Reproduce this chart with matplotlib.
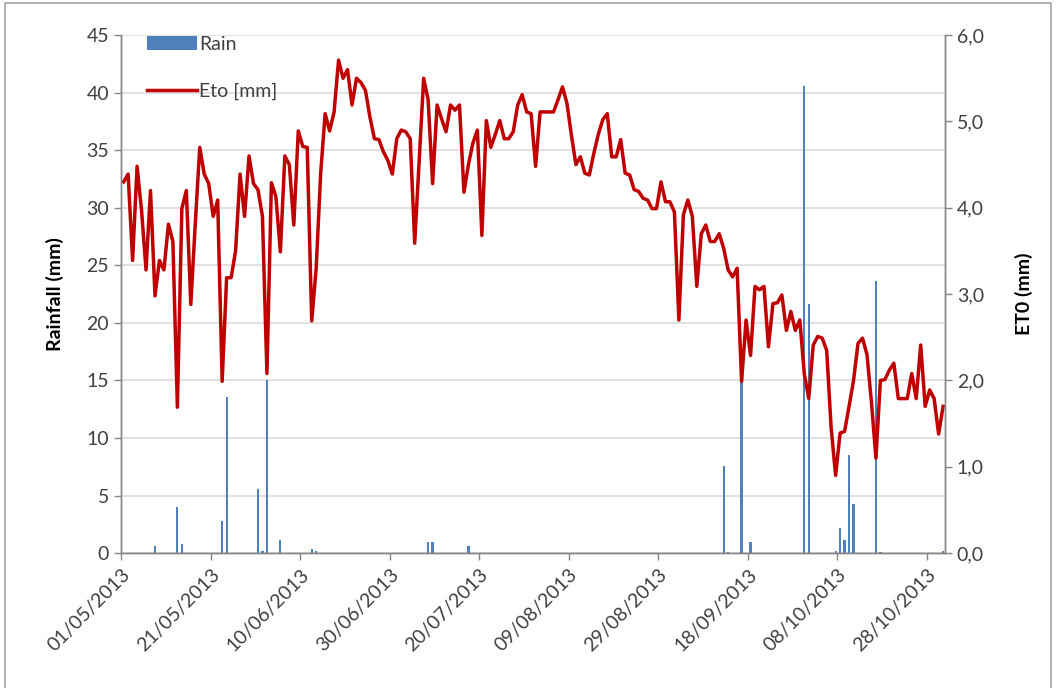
import numpy as np
import pandas as pd
import matplotlib
matplotlib.use("Agg")
import matplotlib.pyplot as plt
from matplotlib.ticker import MultipleLocator, FuncFormatter
from matplotlib.patches import Rectangle

plt.rcParams['font.family'] = ['Lato', 'DejaVu Sans']

# daily series, 1 May - 31 Oct 2013
days = pd.date_range("2013-05-01", "2013-10-31", freq="D")

eto = [
    4.30, 4.39, 3.39, 4.48, 3.97, 3.28, 4.20, 2.98, 3.39, 3.28,
    3.81, 3.61, 1.69, 3.99, 4.20, 2.88, 3.82, 4.70, 4.39, 4.28,
    3.90, 4.09, 1.99, 3.19, 3.19, 3.50, 4.39, 3.90, 4.60, 4.28,
    4.21, 3.90, 2.08, 4.29, 4.13, 3.49, 4.60, 4.50, 3.80, 4.89,
    4.71, 4.70, 2.69, 3.30, 4.40, 5.09, 4.89, 5.11, 5.71, 5.50,
    5.60, 5.19, 5.50, 5.45, 5.36, 5.05, 4.80, 4.79, 4.65, 4.55,
    4.39, 4.80, 4.90, 4.88, 4.80, 3.59, 4.55, 5.50, 5.25, 4.28,
    5.19, 5.03, 4.88, 5.19, 5.13, 5.19, 4.18, 4.50, 4.75, 4.90,
    3.68, 5.01, 4.70, 4.85, 5.01, 4.80, 4.80, 4.88, 5.19, 5.31,
    5.11, 5.09, 4.48, 5.11, 5.11, 5.11, 5.11, 5.25, 5.40, 5.21,
    4.84, 4.50, 4.59, 4.40, 4.38, 4.63, 4.85, 5.02, 5.09, 4.59,
    4.59, 4.79, 4.40, 4.38, 4.21, 4.19, 4.11, 4.09, 3.99, 3.99,
    4.30, 4.07, 4.07, 3.95, 2.70, 3.92, 4.09, 3.90, 3.09, 3.70,
    3.80, 3.61, 3.61, 3.70, 3.53, 3.28, 3.20, 3.30, 1.99, 2.70,
    2.29, 3.09, 3.05, 3.09, 2.39, 2.89, 2.90, 2.99, 2.58, 2.80,
    2.58, 2.70, 2.08, 1.79, 2.41, 2.51, 2.49, 2.35, 1.45, 0.90,
    1.39, 1.41, 1.70, 2.00, 2.43, 2.49, 2.30, 1.75, 1.10, 2.00,
    2.01, 2.12, 2.20, 1.79, 1.79, 1.79, 2.08, 1.79, 2.41, 1.70,
    1.89, 1.79, 1.38, 1.70,
]

# rainy days (day number from 1 May) and amounts in mm
rain_day = [7, 12, 13, 22, 23, 30, 31, 32, 35, 42, 43, 68, 69, 77,
            134, 135, 138, 140, 152, 153, 159, 160, 161, 162, 163, 168, 169, 183]
rain_mm = [0.6, 4.0, 0.8, 2.8, 13.6, 5.6, 0.2, 15.0, 1.1, 0.4, 0.2, 1.0, 1.0, 0.6,
           7.6, 0.1, 15.0, 1.0, 40.6, 21.6, 0.2, 2.2, 1.1, 8.5, 4.3, 23.6, 0.1, 0.2]

rain = np.zeros(len(days))
rain[rain_day] = rain_mm

# daily values are plotted around mid-day
xpos = days + pd.Timedelta(hours=14)

grey_txt = '#404040'
axis_col = '#868686'

fig = plt.figure(figsize=(10.57, 6.88), dpi=100)
ax1 = fig.add_axes([0.1145, 0.196, 0.7795, 0.753])
ax2 = ax1.twinx()

bars = ax1.bar(xpos, rain, width=0.5, color='#4F81BD', label='Rain', zorder=2)
line, = ax2.plot(xpos, eto, color='#C00000', lw=2.5, label='Eto [mm]')

ax1.set_ylim(0, 45)
ax1.yaxis.set_major_locator(MultipleLocator(5))
ax2.set_ylim(0, 6)
ax2.yaxis.set_major_locator(MultipleLocator(1))
ax2.yaxis.set_major_formatter(FuncFormatter(lambda v, p: f"{v:.1f}".replace('.', ',')))

ax1.set_xlim(days[0], days[0] + pd.Timedelta(days=184))
ticks = pd.date_range(days[0], periods=10, freq='20D')
ax1.set_xticks(ticks)
ax1.set_xticklabels([t.strftime('%d/%m/%Y') for t in ticks], rotation=45,
                    ha='right', rotation_mode='anchor')

ax1.yaxis.grid(True, color='#D9D9D9', lw=1.1)
ax1.set_axisbelow(True)

for ax in (ax1, ax2):
    ax.spines['top'].set_visible(False)
    for s in ('left', 'right', 'bottom'):
        ax.spines[s].set_color(axis_col)
        ax.spines[s].set_linewidth(1.0)
    ax.tick_params(colors=axis_col, labelcolor=grey_txt, labelsize=14,
                   length=5, width=1.0, direction='out')
ax1.tick_params(axis='x', pad=4)

ax1.set_ylabel('Rainfall (mm)', fontsize=14, fontweight='bold', color='black', labelpad=16)
ax2.set_ylabel('ET0 (mm)', fontsize=14, fontweight='bold', color='black', labelpad=22)

ax2.legend([bars, line], ['Rain', 'Eto [mm]'], loc='upper left',
           bbox_to_anchor=(0.01, 1.032), frameon=False, fontsize=14,
           handlelength=2.6, labelspacing=1.55, handletextpad=0.1,
           labelcolor=grey_txt)

# chart area border
fig.patches.append(Rectangle((5 / 1057, -0.01), 1046 / 1057, 1.0 - 3 / 688 + 0.01,
                             transform=fig.transFigure, fill=False,
                             edgecolor='#A6A6A6', lw=1.2))

fig.savefig('out.png', dpi=100)
